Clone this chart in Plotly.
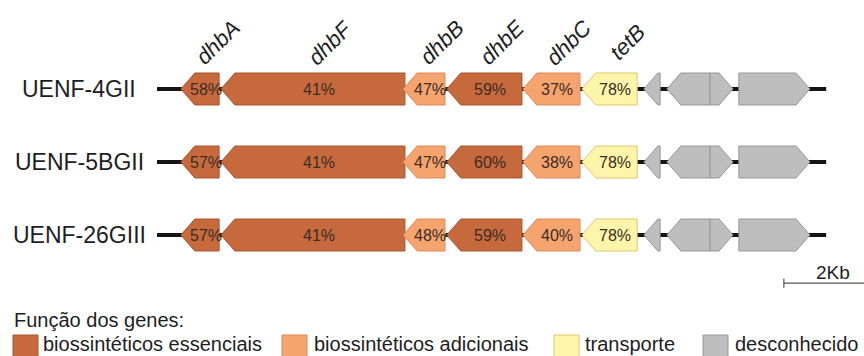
import plotly.graph_objects as go

# ---- data ---------------------------------------------------------------
strains = ["UENF-4GII", "UENF-5BGII", "UENF-26GIII"]

# gene coordinates along the locus (kb) and strand (-1 = reverse, +1 = forward)
gene_names = ["dhbA", "dhbF", "dhbB", "dhbE", "dhbC", "tetB", "", "", "", ""]
gene_start = [0.53, 1.42, 5.47, 6.44, 8.13, 9.44, 10.82, 11.33, 12.29, 12.93]
gene_end = [1.38, 5.51, 6.40, 8.11, 9.40, 10.67, 11.18, 12.29, 12.80, 14.51]
gene_strand = [-1, -1, -1, -1, -1, -1, -1, -1, 1, 1]
gene_role = ["ess", "ess", "add", "ess", "add", "tra", "unk", "unk", "unk", "unk"]
locus_length = 14.87

# identity (%) per strain for the labelled genes
identity = {
    "UENF-4GII": [58, 41, 47, 59, 37, 78],
    "UENF-5BGII": [57, 41, 47, 60, 38, 78],
    "UENF-26GIII": [57, 41, 48, 59, 40, 78],
}

role_keys = ["ess", "add", "tra", "unk"]
role_labels = ["biossintéticos essenciais", "biossintéticos adicionais",
               "transporte", "desconhecido"]
legend_title = "Função dos genes:"
scale_kb = 2
scale_label = "2Kb"
scale_start = 13.93

# ---- styles -------------------------------------------------------------
FILL = {"ess": "#C66A3D", "add": "#F6A46E", "tra": "#FFF5AA", "unk": "#BEBEBE"}
EDGE = {"ess": "#A9552E", "add": "#E0875A", "tra": "#E2C46A", "unk": "#979797"}
FONT = "Liberation Sans, Arial, sans-serif"
W, H = 864, 356
X0, X1 = -3.489, 15.711          # kb range across the canvas
Y0, Y1 = 3.6575, -1.2192         # row range (reversed)
HALF = 0.219                     # half arrow height (rows)
HEAD = 0.31                      # arrow head length (kb)


def px_x(px):
    return px / W


def px_y(py):
    return 1 - py / H


def arrow(s, e, strand, y):
    h = min(HEAD, e - s)
    if strand < 0:
        xs = [s, s + h, e, e, s + h, s]
        ys = [y, y - HALF, y - HALF, y + HALF, y + HALF, y]
    else:
        xs = [s, e - h, e, e - h, s, s]
        ys = [y - HALF, y - HALF, y, y + HALF, y + HALF, y - HALF]
    return xs, ys


fig = go.Figure()
annotations = []
shapes = []

for r, strain in enumerate(strains):
    # backbone line
    fig.add_trace(go.Scatter(x=[0, locus_length], y=[r, r], mode="lines",
                             line=dict(color="#141414", width=4),
                             hoverinfo="skip", showlegend=False))
    for i in range(len(gene_start)):
        xs, ys = arrow(gene_start[i], gene_end[i], gene_strand[i], r)
        role = gene_role[i]
        fig.add_trace(go.Scatter(x=xs, y=ys, mode="lines", fill="toself",
                                 fillcolor=FILL[role],
                                 line=dict(color=EDGE[role], width=1),
                                 hoverinfo="skip", showlegend=False))
    vals = identity[strain]
    for i, v in enumerate(vals):
        h = min(HEAD, gene_end[i] - gene_start[i])
        cx = (gene_start[i] + gene_end[i]) / 2 - gene_strand[i] * 0.4 * h
        annotations.append(dict(x=cx, y=r, xref="x", yref="y", text=f"{v}%",
                                showarrow=False, xanchor="center", yanchor="middle",
                                font=dict(family=FONT, size=16, color="#3b2c24")))
    annotations.append(dict(x=px_x(79), y=r, xref="paper", yref="y", text=strain,
                            showarrow=False, xanchor="center", yanchor="middle",
                            font=dict(family=FONT, size=23, color="#1e1e1e")))

# gene names above the first row
for i, name in enumerate(gene_names):
    if not name:
        continue
    cx = (gene_start[i] + gene_end[i]) / 2 + 0.39
    annotations.append(dict(x=cx, y=-0.64, xref="x", yref="y",
                            text=f"<i>{name}</i>", textangle=-45, showarrow=False,
                            xanchor="center", yanchor="middle",
                            font=dict(family=FONT, size=22, color="#1e1e1e")))

# scale bar
sy = 2.658
shapes.append(dict(type="line", xref="x", yref="y", x0=scale_start,
                   x1=scale_start + scale_kb, y0=sy, y1=sy,
                   line=dict(color="#555555", width=1.2)))
shapes.append(dict(type="line", xref="x", yref="y", x0=scale_start, x1=scale_start,
                   y0=sy - 0.06, y1=sy + 0.065, line=dict(color="#555555", width=1.2)))
annotations.append(dict(x=scale_start + scale_kb / 2 + 0.1, y=2.52, xref="x", yref="y",
                        text=scale_label, showarrow=False, xanchor="center",
                        yanchor="middle",
                        font=dict(family=FONT, size=19, color="#1e1e1e")))

# legend
annotations.append(dict(x=px_x(12), y=px_y(320), xref="paper", yref="paper",
                        text=legend_title, showarrow=False, xanchor="left",
                        yanchor="middle",
                        font=dict(family=FONT, size=20, color="#1e1e1e")))
box_left = [13, 282, 554, 703]
text_left = [41, 312, 583, 733]
for k, role in enumerate(role_keys):
    shapes.append(dict(type="rect", xref="paper", yref="paper",
                       x0=px_x(box_left[k]), x1=px_x(box_left[k] + 25),
                       y0=px_y(335), y1=px_y(360),
                       fillcolor=FILL[role], line=dict(color=EDGE[role], width=1)))
    annotations.append(dict(x=px_x(text_left[k]), y=px_y(357), xref="paper",
                            yref="paper", text=role_labels[k], showarrow=False,
                            xanchor="left", yanchor="bottom",
                            font=dict(family=FONT, size=20, color="#1e1e1e")))

fig.update_layout(
    width=W, height=H, margin=dict(l=0, r=0, t=0, b=0),
    paper_bgcolor="white", plot_bgcolor="white",
    xaxis=dict(range=[X0, X1], visible=False, fixedrange=True),
    yaxis=dict(range=[Y0, Y1], visible=False, fixedrange=True),
    annotations=annotations, shapes=shapes, showlegend=False,
)

fig.write_html("out.html", config={"displayModeBar": False})
